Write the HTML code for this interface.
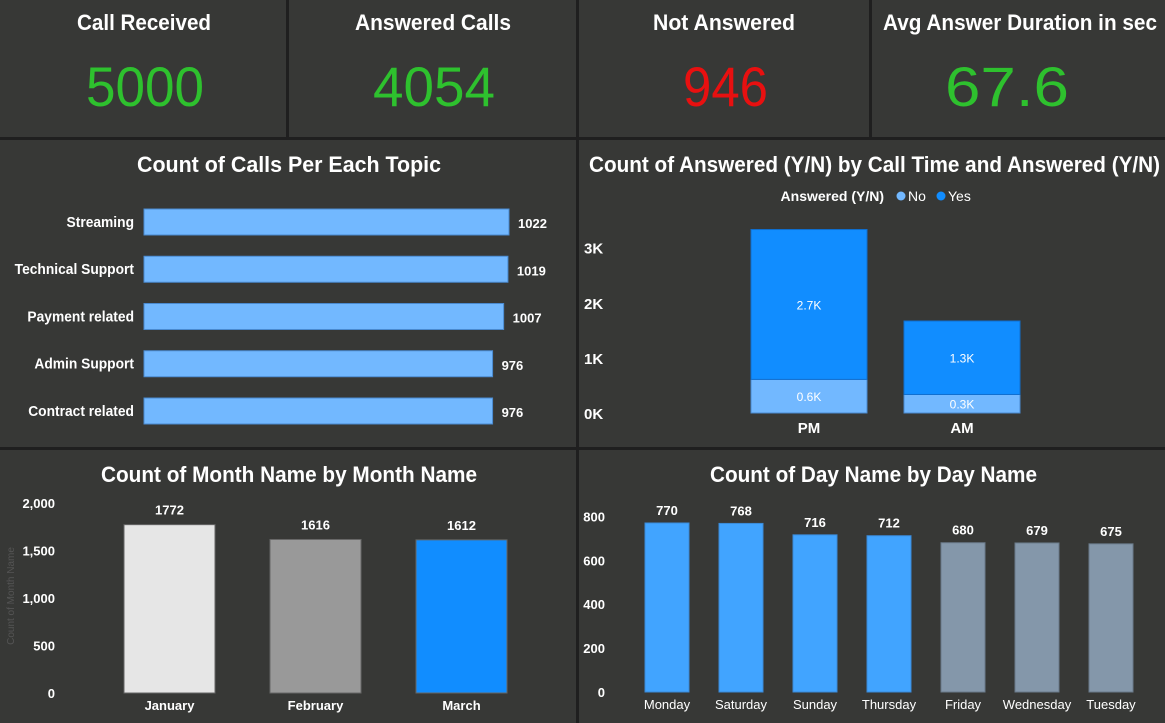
<!DOCTYPE html>
<html><head><meta charset="utf-8">
<style>
html,body{margin:0;padding:0;background:#1f1f1f;width:1165px;height:723px;overflow:hidden;font-family:"Liberation Sans",sans-serif;}
.p{position:absolute;background:#373836;}
svg text{font-family:"Liberation Sans",sans-serif;}
</style></head><body>
<div class="p" style="left:0;top:0;width:286px;height:137px"></div>
<div class="p" style="left:289px;top:0;width:287px;height:137px"></div>
<div class="p" style="left:579px;top:0;width:290px;height:137px"></div>
<div class="p" style="left:872px;top:0;width:293px;height:137px"></div>

<div class="p" style="left:0;top:140px;width:576px;height:307px"></div>
<div class="p" style="left:579px;top:140px;width:586px;height:307px"></div>
<div class="p" style="left:0;top:450px;width:576px;height:273px"></div>
<div class="p" style="left:579px;top:450px;width:586px;height:273px"></div>

<svg id="s" width="1165" height="723" style="position:absolute;left:0;top:0">
<g font-weight="bold" fill="#fff" font-size="22">
<text x="77" y="30" textLength="134" lengthAdjust="spacingAndGlyphs">Call Received</text>
<text x="355" y="30" textLength="156" lengthAdjust="spacingAndGlyphs">Answered Calls</text>
<text x="653" y="30" textLength="142" lengthAdjust="spacingAndGlyphs">Not Answered</text>
<text x="883" y="30" textLength="274" lengthAdjust="spacingAndGlyphs">Avg Answer Duration in sec</text>
</g>
<g font-size="56">
<text x="86" y="106" fill="#2ec12e" textLength="118" lengthAdjust="spacingAndGlyphs">5000</text>
<text x="373" y="106" fill="#2ec12e" textLength="122" lengthAdjust="spacingAndGlyphs">4054</text>
<text x="683" y="106" fill="#e81010" textLength="85" lengthAdjust="spacingAndGlyphs">946</text>
<text x="945" y="106" fill="#2ec12e" textLength="124" lengthAdjust="spacingAndGlyphs">67.6</text>
</g>
<g font-weight="bold" fill="#fff" font-size="22">
<text x="137" y="172" textLength="304" lengthAdjust="spacingAndGlyphs">Count of Calls Per Each Topic</text>
<text x="589" y="172" textLength="571" lengthAdjust="spacingAndGlyphs">Count of Answered (Y/N) by Call Time and Answered (Y/N)</text>
<text x="101" y="482" textLength="376" lengthAdjust="spacingAndGlyphs">Count of Month Name by Month Name</text>
<text x="710" y="482" textLength="327" lengthAdjust="spacingAndGlyphs">Count of Day Name by Day Name</text>
</g>
<g>
<text x="884" y="201" text-anchor="end" fill="#fff" font-size="14" font-weight="bold">Answered (Y/N)</text>
<circle cx="901" cy="196" r="4.5" fill="#72b8ff"/><text x="908" y="201" fill="#fff" font-size="14">No</text>
<circle cx="941" cy="196" r="4.5" fill="#118dff"/><text x="948" y="201" fill="#fff" font-size="14">Yes</text>
</g>
<text transform="translate(14,596) rotate(-90)" text-anchor="middle" fill="#555" font-size="10">Count of Month Name</text>
</svg>
<script>
const topics=["Streaming","Technical Support","Payment related","Admin Support","Contract related"];
const topicVals=[1022,1019,1007,976,976];
const times=["PM","AM"];
const noVals=[610,336];
const yesVals=[2720,1334];
const noLbl=["0.6K","0.3K"];
const yesLbl=["2.7K","1.3K"];
const stackTicks=[0,1000,2000,3000];
const stackTickLbl=["0K","1K","2K","3K"];
const months=["January","February","March"];
const monthVals=[1772,1616,1612];
const monthTicks=[0,500,1000,1500,2000];
const monthTickLbl=["0","500","1,000","1,500","2,000"];
const days=["Monday","Saturday","Sunday","Thursday","Friday","Wednesday","Tuesday"];
const dayVals=[770,768,716,712,680,679,675];
const dayTicks=[0,200,400,600,800];

const s=document.getElementById('s');
const NS='http://www.w3.org/2000/svg';
function mk(t,a,txt){const e=document.createElementNS(NS,t);for(const k in a)e.setAttribute(k,a[k]);if(txt!==undefined)e.textContent=txt;s.appendChild(e);return e;}

const tx=v=>144+v*(365/1022);
topicVals.forEach((v,i)=>{const y=209+i*47.25;
let r=mk('rect',{x:144,y:y,width:tx(v)-144,height:26,fill:'#72b8ff',stroke:'#4a8ad0','stroke-width':1});

let l=mk('text',{x:134,y:y+18,'text-anchor':'end',fill:'#fff','font-size':15,'font-weight':'bold',transform:'translate(134,0) scale(0.92,1) translate(-134,0)'},topics[i]);

let t=mk('text',{x:tx(v)+9,y:y+19,fill:'#fff','font-size':13,'font-weight':'bold'},v);
});

const sy=v=>413-v*0.0551;
stackTicks.forEach((v,i)=>{let t=mk('text',{x:584,y:sy(v)+6,fill:'#fff','font-size':15,'font-weight':'bold'},stackTickLbl[i]);
});
times.forEach((c,i)=>{const x=751+i*153,w=116;
let a=mk('rect',{x:x,y:sy(noVals[i]),width:w,height:413-sy(noVals[i]),fill:'#72b8ff',stroke:'#4a8ad0','stroke-width':1});

let b=mk('rect',{x:x,y:sy(noVals[i]+yesVals[i]),width:w,height:sy(noVals[i])-sy(noVals[i]+yesVals[i]),fill:'#118dff',stroke:'#0f6fd0','stroke-width':1});

let t1=mk('text',{x:x+w/2,y:(sy(noVals[i])+413)/2+5,'text-anchor':'middle',fill:'#fff','font-size':12},noLbl[i]);

let t2=mk('text',{x:x+w/2,y:(sy(noVals[i])+sy(noVals[i]+yesVals[i]))/2+5,'text-anchor':'middle',fill:'#fff','font-size':12},yesLbl[i]);

let c1=mk('text',{x:x+w/2,y:433,'text-anchor':'middle',fill:'#fff','font-size':15,'font-weight':'bold'},c);
});

const my=v=>693-v*0.095;
monthTicks.forEach((v,i)=>{let t=mk('text',{x:55,y:my(v)+5,'text-anchor':'end',fill:'#fff','font-size':13,'font-weight':'bold'},monthTickLbl[i]);
});
const mcol=['#e6e6e6','#999999','#118dff'];
monthVals.forEach((v,i)=>{const x=124+i*146,w=91;
let r=mk('rect',{x:x,y:my(v),width:w,height:693-my(v),fill:mcol[i],stroke:'#666','stroke-width':1});

let t=mk('text',{x:x+w/2,y:my(v)-10,'text-anchor':'middle',fill:'#fff','font-size':13,'font-weight':'bold'},v);

let l=mk('text',{x:x+w/2,y:710,'text-anchor':'middle',fill:'#fff','font-size':13,'font-weight':'bold'},months[i]);
});

const dy=v=>692-v*0.2195;
dayTicks.forEach(v=>{let t=mk('text',{x:605,y:dy(v)+5,'text-anchor':'end',fill:'#fff','font-size':13,'font-weight':'bold'},v);
});
dayVals.forEach((v,i)=>{const x=645+i*74,w=44;const col=i<4?'#41a4ff':'#8497aa';
let r=mk('rect',{x:x,y:dy(v),width:w,height:692-dy(v),fill:col,stroke:i<4?'#3a8ad8':'#6a7a8a','stroke-width':1});

let t=mk('text',{x:x+w/2,y:dy(v)-8,'text-anchor':'middle',fill:'#fff','font-size':13,'font-weight':'bold'},v);

let l=mk('text',{x:x+w/2,y:709,'text-anchor':'middle',fill:'#fff','font-size':13},days[i]);
});
</script>
</body></html>
